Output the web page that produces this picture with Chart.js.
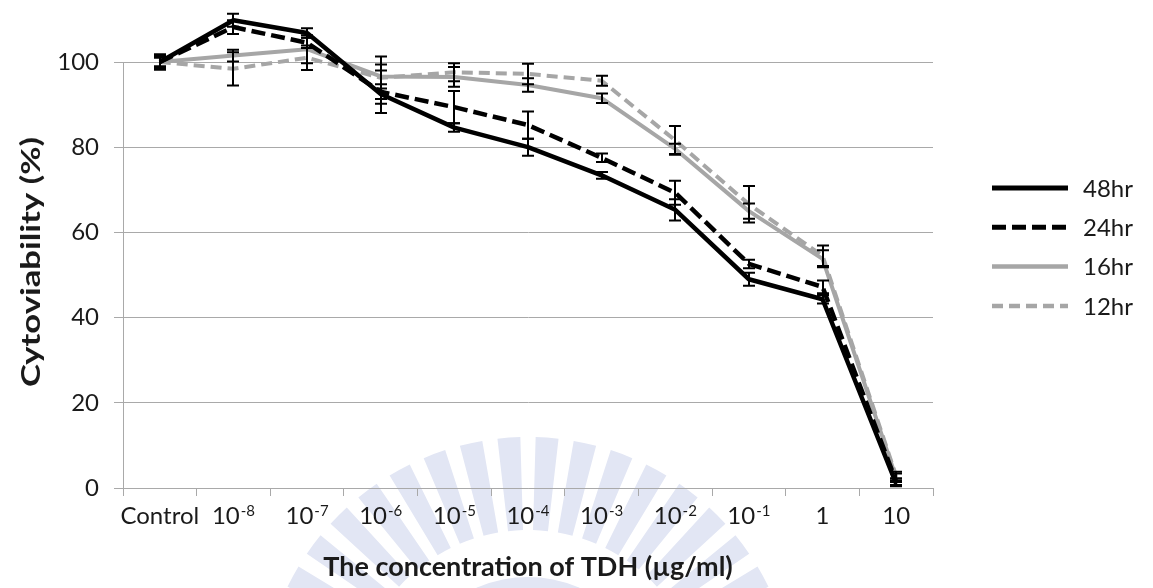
<!DOCTYPE html>
<html>
<head>
<meta charset="utf-8">
<title>Cytoviability vs TDH concentration</title>
<script src="https://cdn.jsdelivr.net/npm/chart.js@4.4.1/dist/chart.umd.min.js"></script>
<style>
  html, body { margin: 0; padding: 0; background: #ffffff; }
  #wrap { width: 1153px; height: 588px; position: relative; }
</style>
</head>
<body>
<div id="wrap"><canvas id="chart" width="1153" height="588"></canvas></div>
<script>
// Concentration categories: base text plus superscript exponent
const categoryBase = ['Control', '10', '10', '10', '10', '10', '10', '10', '10', '1', '10'];
const categoryExp  = ['', '-8', '-7', '-6', '-5', '-4', '-3', '-2', '-1', '', ''];

// Mean cytoviability (%) per exposure time
const viability48 = [100, 109.8, 106.8, 92.5, 84.6, 80.0, 73.4, 65.3, 49.0, 44.3, 1.0];
const viability24 = [100, 108.2, 104.5, 93.0, 89.4, 85.2, 77.5, 69.3, 52.6, 47.2, 1.5];
const viability16 = [100, 101.5, 103.0, 96.6, 96.5, 94.6, 91.5, 79.6, 65.0, 53.8, 2.4];
const viability12 = [100, 98.4, 101.0, 96.3, 97.6, 97.2, 95.6, 81.6, 66.6, 54.5, 2.8];

// Standard deviations (± error bars)
const error48 = [1.8, 1.5, 1.1, 2.3, 1.0, 2.0, 0.8, 2.5, 1.5, 1.0, 0.6];
const error24 = [1.5, 1.6, 1.2, 5.0, 3.8, 3.2, 1.0, 2.8, 1.0, 1.5, 0.8];
const error16 = [1.2, 1.4, 3.3, 2.8, 2.3, 1.6, 1.1, 1.2, 1.8, 2.0, 1.0];
const error12 = [1.0, 3.9, 2.9, 5.0, 2.1, 2.4, 1.2, 3.4, 4.3, 2.4, 1.0];

const seriesNames = ['48hr', '24hr', '16hr', '12hr'];
const yTicks = [0, 20, 40, 60, 80, 100];

const supMap = { '-': '\u207B', '0': '\u2070', '1': '\u00B9', '2': '\u00B2', '3': '\u00B3',
  '4': '\u2074', '5': '\u2075', '6': '\u2076', '7': '\u2077', '8': '\u2078', '9': '\u2079' };
const categories = categoryBase.map((b, i) =>
  b + categoryExp[i].split('').map(c => supMap[c] || c).join(''));

const BLACK = '#000000';
const GREY = '#a6a6a6';
const AXIS = '#a9a9a9';
const TEXT = '#1a1a1a';
const FONT = 'Lato, "Open Sans", sans-serif';

const styles = [
  { color: BLACK, width: 4.5, dash: [] },
  { color: BLACK, width: 4.5, dash: [14, 6] },
  { color: GREY,  width: 4,   dash: [] },
  { color: GREY,  width: 4,   dash: [11, 6] }
];
const values = [viability48, viability24, viability16, viability12];
const errors = [error48, error24, error16, error12];

const datasets = seriesNames.map((name, i) => ({
  label: name,
  data: values[i],
  borderColor: styles[i].color,
  backgroundColor: styles[i].color,
  borderWidth: styles[i].width,
  borderDash: styles[i].dash,
  borderJoinStyle: 'round',
  borderCapStyle: 'butt',
  pointRadius: 0,
  pointHoverRadius: 0,
  tension: 0,
  fill: false,
  clip: false,
  errors: errors[i]
}));

// Faint circular emblem behind the plot
const emblem = {
  id: 'emblem',
  beforeDraw(chart) {
    const ctx = chart.ctx;
    const cx = 528, cy = 705, rIn = 175, rOut = 268, n = 44;
    ctx.save();
    ctx.fillStyle = '#e2e6f4';
    for (let k = 0; k < n; k++) {
      const a = -Math.PI / 2 + (k + 0.5) * 2 * Math.PI / n;
      const half = (Math.PI / n) * 0.6;
      ctx.beginPath();
      ctx.arc(cx, cy, rOut, a - half, a + half);
      ctx.arc(cx, cy, rIn, a + half, a - half, true);
      ctx.closePath();
      ctx.fill();
    }
    ctx.beginPath();
    ctx.arc(cx, cy, 128, 0, Math.PI * 2);
    ctx.arc(cx, cy, 112, 0, Math.PI * 2, true);
    ctx.fill();
    ctx.restore();
  }
};

// Vertical error bars with caps for every series
const errorBars = {
  id: 'errorBars',
  afterDatasetsDraw(chart) {
    const ctx = chart.ctx;
    const xs = chart.scales.x, ys = chart.scales.y;
    ctx.save();
    ctx.strokeStyle = BLACK;
    ctx.lineWidth = 2;
    ctx.setLineDash([]);
    chart.data.datasets.forEach(ds => {
      ds.data.forEach((v, j) => {
        const e = ds.errors[j];
        const x = Math.round(xs.getPixelForValue(j)) ;
        const yt = ys.getPixelForValue(v + e);
        const yb = ys.getPixelForValue(v - e);
        ctx.beginPath();
        ctx.moveTo(x, yt); ctx.lineTo(x, yb);
        ctx.moveTo(x - 6, yt); ctx.lineTo(x + 6, yt);
        ctx.moveTo(x - 6, yb); ctx.lineTo(x + 6, yb);
        ctx.stroke();
      });
    });
    ctx.restore();
  }
};

// Category labels with superscript exponents, axis titles and legend
const annotations = {
  id: 'annotations',
  afterDraw(chart) {
    const ctx = chart.ctx;
    const xs = chart.scales.x, ys = chart.scales.y;
    const area = chart.chartArea;
    ctx.save();
    ctx.fillStyle = TEXT;

    // x category labels
    const baseFont = '24px ' + FONT;
    const expFont = '15px ' + FONT;
    const baseY = area.bottom + 36;
    categoryBase.forEach((b, i) => {
      const cx = xs.getPixelForValue(i);
      ctx.font = baseFont;
      const wb = ctx.measureText(b).width;
      ctx.font = expFont;
      const we = categoryExp[i] ? ctx.measureText(categoryExp[i]).width + 1 : 0;
      const left = cx - (wb + we) / 2;
      ctx.textAlign = 'left';
      ctx.textBaseline = 'alphabetic';
      ctx.font = baseFont;
      ctx.fillText(b, left, baseY);
      if (categoryExp[i]) {
        ctx.font = expFont;
        ctx.fillText(categoryExp[i], left + wb + 1, baseY - 8);
      }
    });

    // x axis title
    ctx.font = 'bold 27px ' + FONT;
    ctx.textAlign = 'center';
    ctx.textBaseline = 'alphabetic';
    ctx.fillText('The concentration of TDH (\u00B5g/ml)', (area.left + area.right) / 2, 576);

    // y axis title, rotated
    ctx.save();
    ctx.translate(40, 262);
    ctx.rotate(-Math.PI / 2);
    ctx.font = 'bold 27px ' + FONT;
    const title = 'Cytoviability (%)';
    const tw = ctx.measureText(title).width;
    const sx = 250 / tw;
    ctx.scale(sx, 1);
    ctx.textAlign = 'center';
    ctx.textBaseline = 'alphabetic';
    ctx.fillText(title, 0, 0);
    ctx.restore();

    // legend
    const lx0 = 992, lx1 = 1068, tx = 1083;
    chart.data.datasets.forEach((ds, i) => {
      const y = 188 + i * 39.3;
      ctx.save();
      ctx.strokeStyle = ds.borderColor;
      ctx.lineWidth = ds.borderWidth + 0.5;
      ctx.setLineDash(ds.borderDash);
      ctx.lineCap = 'butt';
      ctx.beginPath();
      ctx.moveTo(lx0, y); ctx.lineTo(lx1, y);
      ctx.stroke();
      ctx.restore();
      ctx.font = '24px ' + FONT;
      ctx.textAlign = 'left';
      ctx.textBaseline = 'middle';
      ctx.fillStyle = TEXT;
      ctx.fillText(ds.label, tx, y + 1);
    });
    ctx.restore();
  }
};

new Chart(document.getElementById('chart'), {
  type: 'line',
  data: { labels: categories, datasets },
  options: {
    responsive: false,
    animation: false,
    devicePixelRatio: 1,
    layout: { padding: { top: 62, right: 220, bottom: 0, left: 0 } },
    plugins: {
      legend: { display: false },
      tooltip: { enabled: false },
      title: { display: false }
    },
    scales: {
      x: {
        type: 'category',
        offset: true,
        grid: { offset: true, drawOnChartArea: false, drawTicks: true, tickLength: 8, color: AXIS, lineWidth: 1 },
        border: { display: true, color: AXIS, width: 1 },
        ticks: { display: false },
        afterFit(scale) { scale.height = 100; }
      },
      y: {
        min: 0,
        max: 100,
        afterBuildTicks(scale) { scale.ticks = yTicks.map(v => ({ value: v })); },
        ticks: { font: { family: FONT, size: 24 }, color: TEXT, padding: 15 },
        grid: { color: AXIS, lineWidth: 1, drawTicks: true, tickLength: 9 },
        border: { display: true, color: AXIS, width: 1 },
        afterFit(scale) { scale.width = 123; }
      }
    }
  },
  plugins: [emblem, errorBars, annotations]
});
</script>
</body>
</html>
